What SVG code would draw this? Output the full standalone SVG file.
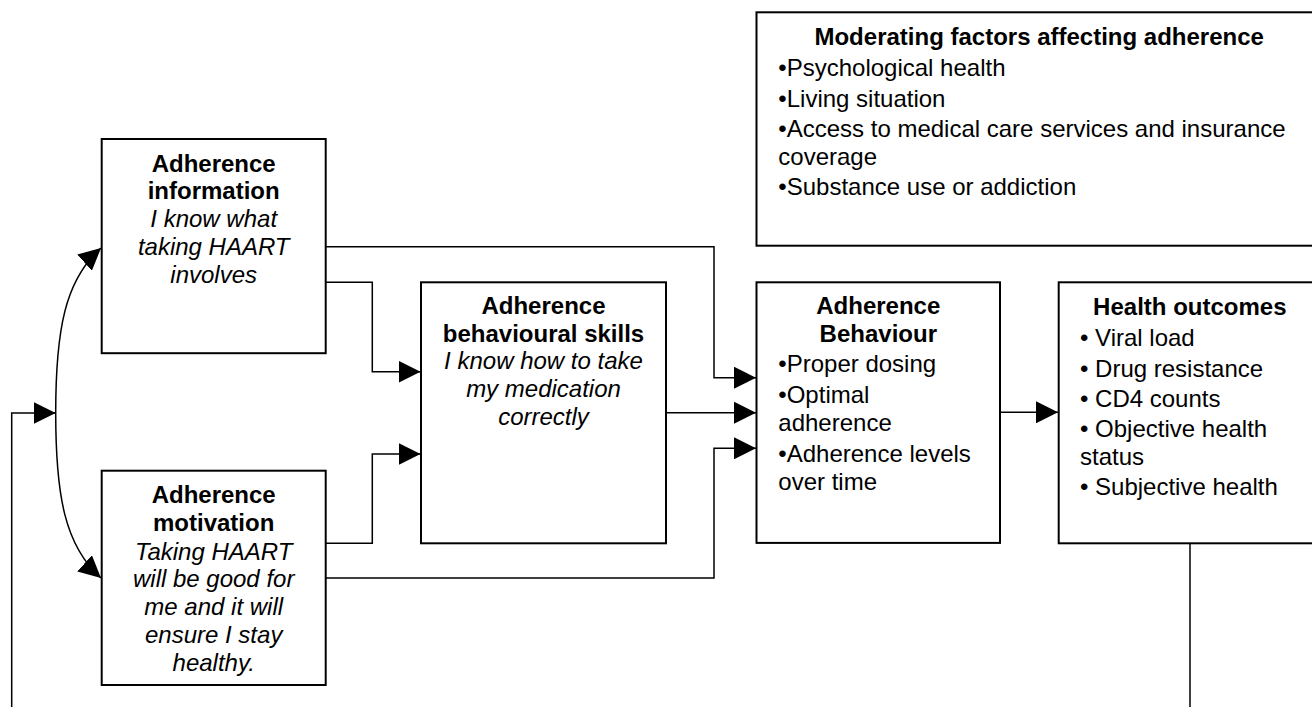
<svg xmlns="http://www.w3.org/2000/svg" width="1312" height="707" viewBox="0 0 1312 707">
<style>
.box{fill:#fff;stroke:#000;stroke-width:2}
.con{fill:none;stroke:#000;stroke-width:1.5}
text{font-family:"Liberation Sans",Arial,Helvetica,sans-serif;font-size:24px;fill:#000}
.b{font-weight:bold}
.i{font-style:italic}
.c{text-anchor:middle}
</style>
<defs>
<marker id="ah" viewBox="0 0 22 22" refX="22" refY="11" markerWidth="22" markerHeight="22" markerUnits="userSpaceOnUse" orient="auto-start-reverse">
<path d="M0,0 L22,11 L0,22 z" fill="#000"/>
</marker>
</defs>
<rect x="0" y="0" width="1312" height="707" fill="#fff"/>

<g id="connectors">
<path class="con" d="M325.7,246.7 H714 V377.7 H756" marker-end="url(#ah)"/>
<path class="con" d="M325.7,282.3 H372.3 V371.7 H420.5" marker-end="url(#ah)"/>
<path class="con" d="M325.7,543.3 H372.3 V454 H420.5" marker-end="url(#ah)"/>
<path class="con" d="M666,412.7 H756" marker-end="url(#ah)"/>
<path class="con" d="M325.7,578 H714 V448.3 H756" marker-end="url(#ah)"/>
<path class="con" d="M1000,412.3 H1058" marker-end="url(#ah)"/>
<path class="con" d="M1190,543.3 V710"/>
<path class="con" d="M11.7,710 V413 H55.7" marker-end="url(#ah)"/>
<path class="con" d="M101,248 C65,280 55.7,330 55.7,413 C55.7,496 65,546 101,578" marker-start="url(#ah)" marker-end="url(#ah)"/>
</g>

<g id="moderating">
<rect class="box" x="756.5" y="12.3" width="566" height="233.4"/>
<text class="b c" x="1039.2" y="45">Moderating factors affecting adherence</text>
<text x="778.3" y="76">•Psychological health</text>
<text x="778.3" y="106.7">•Living situation</text>
<text x="778.3" y="137.3">•Access to medical care services and insurance</text>
<text x="778.3" y="164.5">coverage</text>
<text x="778.3" y="195">•Substance use or addiction</text>
</g>

<g id="information">
<rect class="box" x="101.7" y="139" width="224" height="214.2"/>
<text class="b c" x="213.7" y="171.7">Adherence</text>
<text class="b c" x="213.7" y="199.3">information</text>
<text class="i c" x="213.7" y="227.3">I know what</text>
<text class="i c" x="213.7" y="255.2">taking HAART</text>
<text class="i c" x="213.7" y="283">involves</text>
</g>

<g id="motivation">
<rect class="box" x="101.7" y="470.7" width="224" height="214.3"/>
<text class="b c" x="213.7" y="503.3">Adherence</text>
<text class="b c" x="213.7" y="530.6">motivation</text>
<text class="i c" x="213.7" y="559.5">Taking HAART</text>
<text class="i c" x="213.7" y="587.3">will be good for</text>
<text class="i c" x="213.7" y="615.2">me and it will</text>
<text class="i c" x="213.7" y="643">ensure I stay</text>
<text class="i c" x="213.7" y="670.7">healthy.</text>
</g>

<g id="skills">
<rect class="box" x="421" y="282.3" width="245" height="261"/>
<text class="b c" x="543.5" y="314">Adherence</text>
<text class="b c" x="543.5" y="341.7">behavioural skills</text>
<text class="i c" x="543.5" y="369.3">I know how to take</text>
<text class="i c" x="543.5" y="397">my medication</text>
<text class="i c" x="543.5" y="424.7">correctly</text>
</g>

<g id="behaviour">
<rect class="box" x="756.5" y="282.3" width="243.5" height="260.6"/>
<text class="b c" x="878.3" y="313.5">Adherence</text>
<text class="b c" x="878.3" y="341.5">Behaviour</text>
<text x="778.3" y="371.7">•Proper dosing</text>
<text x="778.3" y="402.7">•Optimal</text>
<text x="778.3" y="430.5">adherence</text>
<text x="778.3" y="462">•Adherence levels</text>
<text x="778.3" y="489.7">over time</text>
</g>

<g id="health">
<rect class="box" x="1058.7" y="282.3" width="264" height="261"/>
<text class="b c" x="1189.8" y="315">Health outcomes</text>
<text x="1080" y="346">• Viral load</text>
<text x="1080" y="376.5">• Drug resistance</text>
<text x="1080" y="406.7">• CD4 counts</text>
<text x="1080" y="437.3">• Objective health</text>
<text x="1080" y="465">status</text>
<text x="1080" y="495.3">• Subjective health</text>
</g>
</svg>
